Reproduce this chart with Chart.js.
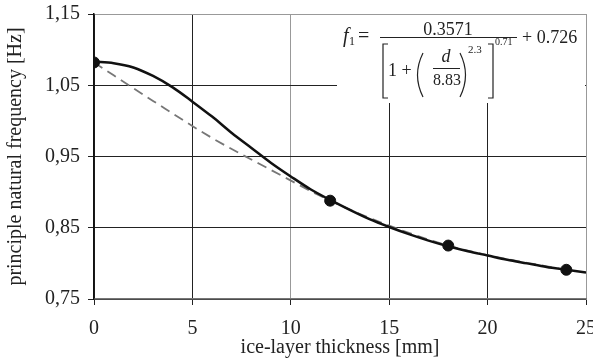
<!DOCTYPE html>
<html>
<head>
<meta charset="utf-8">
<script src="https://cdn.jsdelivr.net/npm/chart.js@4/dist/chart.umd.min.js"></script>
<style>
  html, body { margin: 0; padding: 0; background: #fff; }
  #wrap { width: 593px; height: 362px; }
</style>
</head>
<body>
<div id="wrap"><canvas id="myChart" width="593" height="362"></canvas></div>
<script>
// measured points (ice thickness in mm, frequency in Hz)
const measX = [0, 12, 18, 24];
const measY = [1.082, 0.888, 0.825, 0.791];

// dashed trend line
const trendX = [0, 3, 6, 9, 12, 15, 18, 21, 24];
const trendY = [1.082, 1.028, 0.976, 0.931, 0.888, 0.853, 0.825, 0.806, 0.791];

// fitted curve
const fitX = [0, 1, 2, 3, 4, 5, 6, 7, 8, 9, 10, 11, 12, 13, 14, 15, 16, 17, 18, 19, 20, 21, 22, 23, 24, 25];
const fitY = [1.083, 1.081, 1.075, 1.063, 1.047, 1.027, 1.006, 0.983, 0.962, 0.941, 0.922, 0.904, 0.889,
              0.875, 0.862, 0.851, 0.841, 0.832, 0.824, 0.817, 0.811, 0.805, 0.800, 0.795, 0.791, 0.787];

const xTicks = [0, 5, 10, 15, 20, 25];
const yTicks = [0.75, 0.85, 0.95, 1.05, 1.15];

const serif = "'Liberation Serif', 'Times New Roman', serif";

const toPts = (xs, ys) => xs.map((x, i) => ({ x: x, y: ys[i] }));

// white box with the fit formula, top right of the plot
const formulaBox = {
    id: 'formulaBox',
    beforeDatasetsDraw(chart) {
        const ctx = chart.ctx;
        const ca = chart.chartArea;
        const ox = ca.right - 249;
        const oy = ca.top;
        ctx.save();
        ctx.fillStyle = '#fff';
        ctx.fillRect(ox, oy + 1, 248, 88);

        ctx.fillStyle = '#222';
        ctx.strokeStyle = '#222';
        ctx.textBaseline = 'alphabetic';
        ctx.textAlign = 'left';

        ctx.font = "italic 20px " + serif;
        ctx.fillText('f', ox + 6, oy + 28);
        ctx.font = "12px " + serif;
        ctx.fillText('1', ox + 12, oy + 31);
        ctx.font = "20px " + serif;
        ctx.fillText('=', ox + 21, oy + 28);

        ctx.font = "18px " + serif;
        ctx.textAlign = 'center';
        ctx.fillText('0.3571', ox + 111, oy + 21);

        ctx.lineWidth = 1;
        ctx.beginPath();
        ctx.moveTo(ox + 43, oy + 23.5);
        ctx.lineTo(ox + 180, oy + 23.5);
        ctx.stroke();

        // brackets
        ctx.lineWidth = 1.2;
        ctx.beginPath();
        ctx.moveTo(ox + 51, oy + 30);
        ctx.lineTo(ox + 46, oy + 30);
        ctx.lineTo(ox + 46, oy + 84);
        ctx.lineTo(ox + 51, oy + 84);
        ctx.moveTo(ox + 151, oy + 30);
        ctx.lineTo(ox + 156, oy + 30);
        ctx.lineTo(ox + 156, oy + 84);
        ctx.lineTo(ox + 151, oy + 84);
        ctx.stroke();

        // parentheses
        ctx.beginPath();
        ctx.moveTo(ox + 86, oy + 39);
        ctx.quadraticCurveTo(ox + 75, oy + 61, ox + 86, oy + 83);
        ctx.moveTo(ox + 123, oy + 39);
        ctx.quadraticCurveTo(ox + 134, oy + 61, ox + 123, oy + 83);
        ctx.stroke();

        ctx.textAlign = 'left';
        ctx.font = "18px " + serif;
        ctx.fillText('1 +', ox + 51, oy + 62);

        ctx.textAlign = 'center';
        ctx.font = "italic 18px " + serif;
        ctx.fillText('d', ox + 109, oy + 48);
        ctx.lineWidth = 1;
        ctx.beginPath();
        ctx.moveTo(ox + 96, oy + 54.5);
        ctx.lineTo(ox + 123, oy + 54.5);
        ctx.stroke();
        ctx.font = "16px " + serif;
        ctx.fillText('8.83', ox + 110, oy + 71);

        ctx.textAlign = 'left';
        ctx.font = "11px " + serif;
        ctx.fillText('2.3', ox + 131, oy + 39);
        ctx.font = "10px " + serif;
        ctx.fillText('0.71', ox + 158, oy + 31);

        ctx.font = "18px " + serif;
        ctx.fillText('+ 0.726', ox + 185, oy + 29);
        ctx.restore();
    }
};

const gridColor = (ctx) => {
    const v = ctx.tick ? ctx.tick.value : null;
    if (v === 25 || v === 1.15 || v === 10) return '#999';
    return '#222';
};

new Chart('myChart', {
    type: 'scatter',
    data: {
        datasets: [
            {
                label: 'measured trend',
                data: toPts(trendX, trendY),
                showLine: true,
                borderColor: '#777',
                borderWidth: 1.8,
                borderDash: [10, 6],
                cubicInterpolationMode: 'monotone',
                pointRadius: 0,
                order: 3
            },
            {
                label: 'fit',
                data: toPts(fitX, fitY),
                showLine: true,
                borderColor: '#111',
                borderWidth: 2.5,
                cubicInterpolationMode: 'monotone',
                pointRadius: 0,
                order: 2
            },
            {
                label: 'measured',
                data: toPts(measX, measY),
                showLine: false,
                pointRadius: 5.5,
                pointBackgroundColor: '#111',
                pointBorderColor: '#111',
                order: 1
            }
        ]
    },
    options: {
        responsive: false,
        animation: false,
        layout: { padding: { top: 14, right: 7, left: 0, bottom: 0 } },
        plugins: {
            legend: { display: false },
            tooltip: { enabled: false }
        },
        scales: {
            x: {
                type: 'linear',
                min: 0,
                max: 25,
                afterBuildTicks: (s) => { s.ticks = xTicks.map(v => ({ value: v })); },
                afterFit: (s) => { s.height = 63; s.paddingLeft = 0; s.paddingRight = 0; },
                grid: { color: gridColor, lineWidth: 1, tickLength: 6, tickColor: '#222' },
                border: { color: '#777', width: 1.5 },
                ticks: {
                    color: '#222',
                    padding: 12,
                    maxRotation: 0,
                    font: { family: serif, size: 20 },
                    callback: (v) => String(v)
                },
                title: {
                    display: true,
                    text: 'ice-layer thickness [mm]',
                    color: '#222',
                    padding: { top: 0, bottom: 2 },
                    font: { family: serif, size: 20 }
                }
            },
            y: {
                type: 'linear',
                min: 0.75,
                max: 1.15,
                afterBuildTicks: (s) => { s.ticks = yTicks.map(v => ({ value: v })); },
                afterFit: (s) => { s.width = 94; s.paddingTop = 0; s.paddingBottom = 0; },
                grid: { color: gridColor, lineWidth: 1, tickLength: 6, tickColor: '#222' },
                border: { color: '#111', width: 1.5 },
                ticks: {
                    color: '#222',
                    padding: 8,
                    font: { family: serif, size: 20 },
                    callback: (v) => v.toFixed(2).replace('.', ',')
                },
                title: {
                    display: true,
                    text: 'principle natural frequency [Hz]',
                    color: '#222',
                    padding: { top: 4, bottom: 0 },
                    font: { family: serif, size: 20 }
                }
            }
        }
    },
    plugins: [formulaBox]
});
</script>
</body>
</html>
